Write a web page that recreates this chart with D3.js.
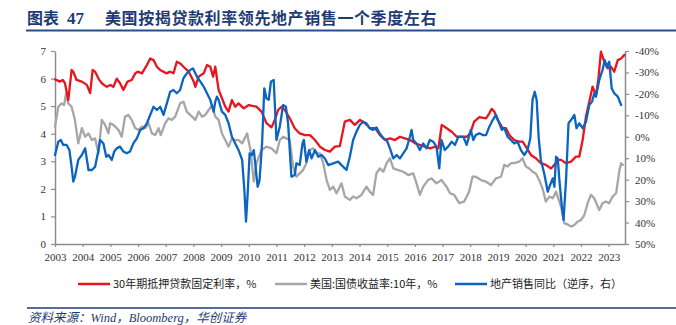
<!DOCTYPE html>
<html><head><meta charset="utf-8">
<script src="https://cdn.jsdelivr.net/npm/d3@7"></script>
<style>body{margin:0;background:#fff;}svg{display:block;}</style>
</head><body>
<svg id="chart" width="676" height="325"></svg>
<script>
// ---------- data ----------
const yearTicks = d3.range(2003, 2024);
const leftTicks = [0,1,2,3,4,5,6,7];
const rightTicks = [-40,-30,-20,-10,0,10,20,30,40,50];

const mortgageDates = [2003.00,2003.18,2003.28,2003.36,2003.48,2003.60,2003.66,2003.78,2003.97,2004.15,2004.27,2004.36,2004.45,2004.57,2004.69,2004.87,2005.00,2005.11,2005.23,2005.35,2005.47,2005.62,2005.77,2005.90,2005.99,2006.14,2006.32,2006.44,2006.56,2006.68,2006.80,2007.02,2007.16,2007.28,2007.40,2007.52,2007.64,2007.83,2008.01,2008.07,2008.19,2008.37,2008.49,2008.61,2008.71,2008.79,2008.91,2009.01,2009.15,2009.27,2009.39,2009.51,2009.63,2009.82,2010.00,2010.28,2010.46,2010.64,2010.82,2010.94,2011.06,2011.18,2011.30,2011.48,2011.66,2011.84,2012.03,2012.21,2012.39,2012.57,2012.75,2012.93,2013.11,2013.29,2013.47,2013.65,2013.83,2014.02,2014.20,2014.38,2014.56,2014.74,2014.92,2015.10,2015.28,2015.46,2015.64,2015.83,2016.01,2016.19,2016.37,2016.55,2016.73,2016.85,2016.97,2017.15,2017.33,2017.51,2017.69,2017.88,2018.00,2018.14,2018.33,2018.57,2018.69,2018.77,2018.87,2018.99,2019.17,2019.29,2019.41,2019.59,2019.77,2019.89,2020.01,2020.19,2020.37,2020.55,2020.73,2020.92,2021.04,2021.16,2021.28,2021.46,2021.64,2021.82,2021.94,2022.06,2022.18,2022.30,2022.42,2022.54,2022.63,2022.72,2022.82,2022.96,2023.08,2023.20,2023.33,2023.45,2023.57];
const mortgageRate = [5.97,5.89,5.95,5.83,5.22,6.31,6.25,5.95,5.89,5.77,5.47,6.31,6.25,6.00,5.83,5.70,5.77,5.70,6.00,5.83,5.59,5.89,5.95,6.19,6.25,6.19,6.49,6.73,6.67,6.43,6.31,6.19,6.25,6.19,6.61,6.55,6.43,6.25,5.89,5.70,6.07,6.19,6.49,6.43,6.07,6.43,5.59,5.34,4.98,4.80,5.22,4.98,5.10,4.92,5.04,4.98,4.80,4.38,4.23,4.50,4.86,4.98,4.86,4.56,4.20,4.01,3.95,3.95,3.77,3.53,3.41,3.35,3.53,3.55,4.44,4.50,4.32,4.50,4.38,4.20,4.20,3.95,3.77,3.83,3.77,3.89,3.83,3.77,3.65,3.59,3.53,3.47,3.53,3.47,4.32,4.20,4.07,3.89,3.89,3.89,4.01,4.44,4.60,4.56,4.74,4.90,4.80,4.50,4.20,4.20,3.95,3.77,3.71,3.71,3.53,3.23,3.11,2.93,2.87,2.74,2.87,3.05,3.05,2.93,2.99,3.17,3.17,3.77,4.62,5.16,5.71,5.40,6.00,6.98,6.67,6.37,6.43,6.25,6.67,6.73,6.86];

const treasuryDates = [2003.00,2003.12,2003.24,2003.33,2003.40,2003.48,2003.60,2003.72,2003.84,2003.97,2004.09,2004.21,2004.33,2004.45,2004.57,2004.69,2004.81,2004.93,2004.99,2005.11,2005.29,2005.41,2005.53,2005.65,2005.77,2005.90,2006.02,2006.14,2006.26,2006.38,2006.50,2006.62,2006.74,2006.82,2006.98,2007.10,2007.22,2007.34,2007.52,2007.64,2007.76,2007.95,2008.07,2008.19,2008.31,2008.43,2008.55,2008.67,2008.79,2008.91,2009.03,2009.15,2009.27,2009.39,2009.51,2009.63,2009.76,2009.94,2010.06,2010.18,2010.28,2010.46,2010.64,2010.82,2011.00,2011.12,2011.24,2011.36,2011.48,2011.60,2011.72,2011.84,2011.96,2012.08,2012.20,2012.33,2012.45,2012.57,2012.69,2012.81,2012.93,2013.05,2013.17,2013.35,2013.47,2013.65,2013.77,2013.89,2014.07,2014.25,2014.37,2014.49,2014.61,2014.73,2014.86,2014.98,2015.10,2015.22,2015.40,2015.58,2015.76,2015.94,2016.06,2016.18,2016.30,2016.48,2016.60,2016.78,2016.96,2017.14,2017.27,2017.42,2017.60,2017.78,2017.96,2018.08,2018.20,2018.39,2018.57,2018.75,2018.93,2019.11,2019.23,2019.35,2019.47,2019.59,2019.77,2019.89,2020.01,2020.13,2020.25,2020.37,2020.49,2020.61,2020.73,2020.86,2020.98,2021.10,2021.28,2021.40,2021.52,2021.64,2021.76,2021.88,2022.00,2022.12,2022.24,2022.36,2022.48,2022.66,2022.78,2022.90,2023.02,2023.14,2023.27,2023.39,2023.45,2023.51];
const treasuryYield = [4.26,4.98,5.10,5.04,5.47,5.10,4.98,4.50,3.65,4.20,3.89,4.01,3.77,3.83,3.29,4.50,4.32,4.01,4.38,4.32,4.14,3.89,4.62,4.68,4.50,4.20,4.14,4.26,4.20,4.38,4.01,3.95,4.20,3.95,4.38,4.56,4.50,4.62,5.10,5.16,4.80,4.62,4.50,4.80,4.62,4.68,4.86,5.04,4.62,4.50,4.01,3.77,3.53,3.83,3.77,3.77,3.65,4.01,3.41,2.26,2.93,3.41,3.53,3.47,3.29,3.77,3.89,3.83,3.77,2.81,2.44,2.56,2.68,2.93,3.41,3.47,3.29,3.29,2.93,2.32,1.96,2.08,1.84,2.20,1.72,1.60,1.72,1.66,1.78,2.08,1.90,1.78,2.56,2.74,2.62,2.93,3.11,2.74,2.68,2.62,2.50,2.56,2.20,1.78,2.08,2.32,2.38,2.20,2.32,2.08,1.84,1.78,1.48,1.54,1.90,2.44,2.44,2.32,2.26,2.14,2.38,2.44,2.87,2.81,2.93,2.93,2.99,3.11,2.81,2.74,2.62,2.56,2.32,2.02,1.54,1.72,1.66,1.90,1.35,0.75,0.71,0.63,0.69,0.81,0.87,1.05,1.48,1.78,1.66,1.23,1.48,1.54,1.48,1.72,1.84,2.68,2.93,2.87];

const salesDates = [2003.00,2003.12,2003.21,2003.30,2003.42,2003.52,2003.60,2003.66,2003.72,2003.84,2003.97,2004.09,2004.21,2004.33,2004.45,2004.57,2004.63,2004.75,2004.85,2004.93,2005.05,2005.14,2005.23,2005.35,2005.47,2005.59,2005.71,2005.83,2005.96,2006.08,2006.20,2006.32,2006.44,2006.56,2006.68,2006.80,2006.92,2007.04,2007.16,2007.28,2007.40,2007.52,2007.64,2007.76,2007.89,2007.98,2008.07,2008.13,2008.25,2008.37,2008.49,2008.61,2008.73,2008.79,2008.85,2008.91,2009.03,2009.15,2009.27,2009.39,2009.51,2009.63,2009.76,2009.84,2009.90,2009.96,2010.03,2010.11,2010.18,2010.24,2010.32,2010.39,2010.48,2010.56,2010.64,2010.72,2010.80,2010.90,2011.00,2011.12,2011.24,2011.34,2011.42,2011.48,2011.54,2011.66,2011.72,2011.84,2011.94,2011.99,2012.08,2012.18,2012.27,2012.39,2012.51,2012.63,2012.75,2012.87,2013.05,2013.23,2013.35,2013.47,2013.53,2013.65,2013.77,2013.89,2014.01,2014.13,2014.25,2014.37,2014.49,2014.61,2014.73,2014.86,2014.98,2015.10,2015.22,2015.34,2015.46,2015.58,2015.70,2015.82,2015.88,2015.94,2016.06,2016.18,2016.30,2016.42,2016.54,2016.66,2016.78,2016.88,2016.96,2017.08,2017.20,2017.33,2017.45,2017.57,2017.75,2017.87,2018.02,2018.11,2018.20,2018.33,2018.45,2018.57,2018.69,2018.81,2018.93,2019.05,2019.14,2019.23,2019.35,2019.47,2019.59,2019.71,2019.83,2019.95,2020.07,2020.17,2020.25,2020.33,2020.40,2020.47,2020.55,2020.67,2020.80,2020.86,2020.98,2021.04,2021.10,2021.16,2021.22,2021.31,2021.37,2021.46,2021.55,2021.64,2021.76,2021.84,2021.94,2022.06,2022.18,2022.30,2022.40,2022.48,2022.54,2022.66,2022.78,2022.86,2022.93,2023.02,2023.11,2023.20,2023.33,2023.45];
const salesYoY = [8.5,2.3,1.5,3.8,3.8,6.2,14.0,20.9,18.6,10.8,8.5,5.4,15.5,15.5,14.0,6.2,1.5,3.1,9.3,8.5,10.8,6.9,5.4,4.6,6.9,7.7,6.9,3.1,0.7,-3.2,-4.0,-6.3,-10.2,-14.0,-12.5,-14.0,-10.2,-15.6,-21.0,-21.8,-20.3,-21.8,-27.3,-29.6,-31.2,-31.9,-29.6,-28.0,-25.7,-23.4,-20.3,-17.2,-11.7,-16.4,-18.7,-17.2,-11.7,-10.2,-6.3,0.0,3.1,6.2,10.8,24.8,39.6,26.4,7.7,8.5,6.2,13.2,23.3,20.2,3.1,-22.6,-17.9,-17.2,-25.7,-26.5,1.5,-4.7,-14.8,-14.0,-6.3,6.2,18.6,17.8,12.4,13.2,3.1,1.5,11.6,6.2,10.1,6.2,9.3,8.5,10.1,13.2,12.4,11.6,13.2,14.7,15.5,9.3,1.5,-2.4,-5.5,-7.0,-6.3,-3.9,-3.2,-4.4,-1.6,0.7,1.5,5.4,10.1,8.5,10.1,7.7,5.4,0.0,-3.2,1.5,3.1,6.2,3.1,5.4,1.5,2.3,4.6,14.7,1.5,6.2,4.6,2.3,3.8,0.0,0.0,3.8,-3.2,1.5,-0.8,-1.6,-0.8,-0.8,-4.7,-7.8,-10.2,-6.3,-3.2,-4.0,0.0,1.5,3.1,2.3,6.2,8.5,6.2,0.7,-17.2,-21.0,-17.2,0.0,10.8,17.0,25.6,23.3,19.4,23.3,9.3,10.1,20.2,32.6,38.8,20.2,-6.3,-7.8,-10.2,-4.0,-6.3,-4.0,-7.0,-14.8,-16.4,-20.3,-18.7,-26.5,-31.2,-35.8,-32.7,-35.0,-22.6,-20.3,-18.7,-14.8];

const titleText = "美国按揭贷款利率领先地产销售一个季度左右";
const seriesNames = ["30年期抵押贷款固定利率，%", "美国:国债收益率:10年，%", "地产销售同比（逆序，右）"];
const sourceText = "资料来源：Wind，Bloomberg，华创证券";

// ---------- drawing ----------
const svg = d3.select("#chart");
const navy = "#1F3B73";
const colors = {red:"#E8141E", gray:"#A6A6A6", blue:"#0A64C2"};
const axisColor = "#8C8C8C";
const plot = {l:55, r:625, t:51, b:244};

const x = d3.scaleLinear().domain([2003, 2023.59]).range([plot.l, plot.r]);
const yL = d3.scaleLinear().domain([0, 7]).range([plot.b, plot.t]);
const yR = d3.scaleLinear().domain([-40, 50]).range([plot.t, plot.b]);

// Title
const title = svg.append("g").attr("fill", navy).attr("font-weight", "bold");
title.append("text").attr("x", 27).attr("y", 24).attr("font-family", "'Noto Sans CJK SC'")
  .attr("font-size", 16).text("图表");
title.append("text").attr("x", 67).attr("y", 24).attr("font-family", "'Liberation Serif'")
  .attr("font-size", 17).text("47");
title.append("text").attr("x", 105).attr("y", 24).attr("font-family", "'Noto Sans CJK SC'")
  .attr("font-size", 16).attr("letter-spacing", 0.6).text(titleText);
svg.append("line").attr("x1", 26).attr("x2", 676).attr("y1", 30.5).attr("y2", 30.5)
  .attr("stroke", "#2B4C8C").attr("stroke-width", 2);

// Axes
function styleAxis(g){
  g.attr("font-family", "'Liberation Serif', serif").attr("font-size", 11);
  g.selectAll(".domain").attr("stroke", axisColor).attr("stroke-width", 1.5);
  g.selectAll(".tick line").attr("stroke", axisColor).attr("stroke-width", 1.2);
  g.selectAll("text").attr("fill", "#333");
}
svg.append("g").attr("transform", `translate(${plot.l},0)`)
  .call(d3.axisLeft(yL).tickValues(leftTicks).tickFormat(d3.format("d")).tickSize(4).tickSizeOuter(0).tickPadding(5))
  .call(styleAxis);
svg.append("g").attr("transform", `translate(${plot.r},0)`)
  .call(d3.axisRight(yR).tickValues(rightTicks).tickFormat(d => d + "%").tickSize(4).tickSizeOuter(0).tickPadding(6))
  .call(styleAxis);
svg.append("g").attr("transform", `translate(0,${plot.b})`)
  .call(d3.axisBottom(x).tickValues(yearTicks).tickFormat(d3.format("d")).tickSize(3).tickSizeOuter(0).tickPadding(6))
  .call(styleAxis);

// Lines
function drawLine(dates, vals, yScale, color){
  const pts = dates.map((d, i) => [d, vals[i]]);
  svg.append("path").datum(pts)
    .attr("fill", "none").attr("stroke", color).attr("stroke-width", 2.3)
    .attr("stroke-linejoin", "round").attr("stroke-linecap", "round")
    .attr("d", d3.line().x(p => x(p[0])).y(p => yScale(p[1])));
}
drawLine(treasuryDates, treasuryYield, yL, colors.gray);
drawLine(mortgageDates, mortgageRate, yL, colors.red);
drawLine(salesDates, salesYoY, yR, colors.blue);

// Legend
const legendItems = [
  {name: seriesNames[0], color: colors.red, x: 78},
  {name: seriesNames[1], color: colors.gray, x: 275},
  {name: seriesNames[2], color: colors.blue, x: 455}
];
const lg = svg.append("g");
legendItems.forEach(it => {
  lg.append("line").attr("x1", it.x).attr("x2", it.x + 32).attr("y1", 284).attr("y2", 284)
    .attr("stroke", it.color).attr("stroke-width", 2.5);
  lg.append("text").attr("x", it.x + 35).attr("y", 288).attr("font-family", "'Noto Sans CJK SC'")
    .attr("font-size", 11).attr("fill", "#222").text(it.name);
});

// Footer
svg.append("line").attr("x1", 27).attr("x2", 676).attr("y1", 308).attr("y2", 308)
  .attr("stroke", navy).attr("stroke-width", 1.5);
svg.append("text").attr("x", 28).attr("y", 322).attr("font-family", "'Liberation Serif', 'Noto Sans CJK SC'")
  .attr("font-style", "italic").attr("font-size", 12.5).attr("fill", navy).text(sourceText);
</script>
</body></html>
